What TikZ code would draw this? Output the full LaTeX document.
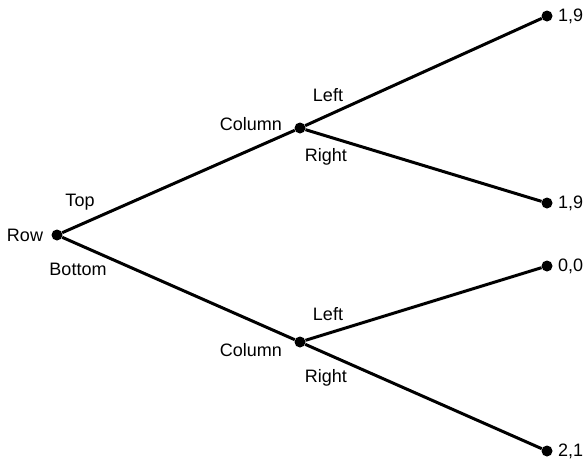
\documentclass[tikz,border=0pt]{standalone}
\usepackage{fontspec}
\setmainfont{Liberation Sans}
\begin{document}
\begin{tikzpicture}[x=1pt,y=-1pt,
  dot/.style={circle,fill=black,inner sep=0pt,minimum size=11pt},
  edge/.style={line width=3pt},
  lbl/.style={font=\fontsize{18}{20}\selectfont,inner sep=0pt,anchor=center}]
\useasboundingbox (0,0) rectangle (587,461);
\node[dot] (row) at (57,235) {};
\node[dot] (ct) at (300,128) {};
\node[dot] (cb) at (300,342) {};
\node[dot] (l1) at (547,16) {};
\node[dot] (l2) at (547,203) {};
\node[dot] (l3) at (547,266) {};
\node[dot] (l4) at (547,451) {};
\draw[edge] (row) -- (ct);
\draw[edge] (row) -- (cb);
\draw[edge] (ct) -- (l1);
\draw[edge] (ct) -- (l2);
\draw[edge] (cb) -- (l3);
\draw[edge] (cb) -- (l4);
\node[lbl] (trow) at (25,235) {Row};
\node[lbl] (ttop) at (80,202) {Top};
\node[lbl] (tbot) at (78,269) {Bottom};
\node[lbl] (tc1) at (251,124) {Column};
\node[lbl] (tc2) at (251,350) {Column};
\node[lbl] (tl1) at (328,95) {Left};
\node[lbl] (tr1) at (326,157) {Right};
\node[lbl] (tl2) at (328,314) {Left};
\node[lbl] (tr2) at (326,378) {Right};
\node[lbl,anchor=west] (p1) at (558,16) {1,9};
\node[lbl,anchor=west] (p2) at (558,203) {1,9};
\node[lbl,anchor=west] (p3) at (558,266) {0,0};
\node[lbl,anchor=west] (p4) at (558,451) {2,1};
\end{tikzpicture}
\end{document}
